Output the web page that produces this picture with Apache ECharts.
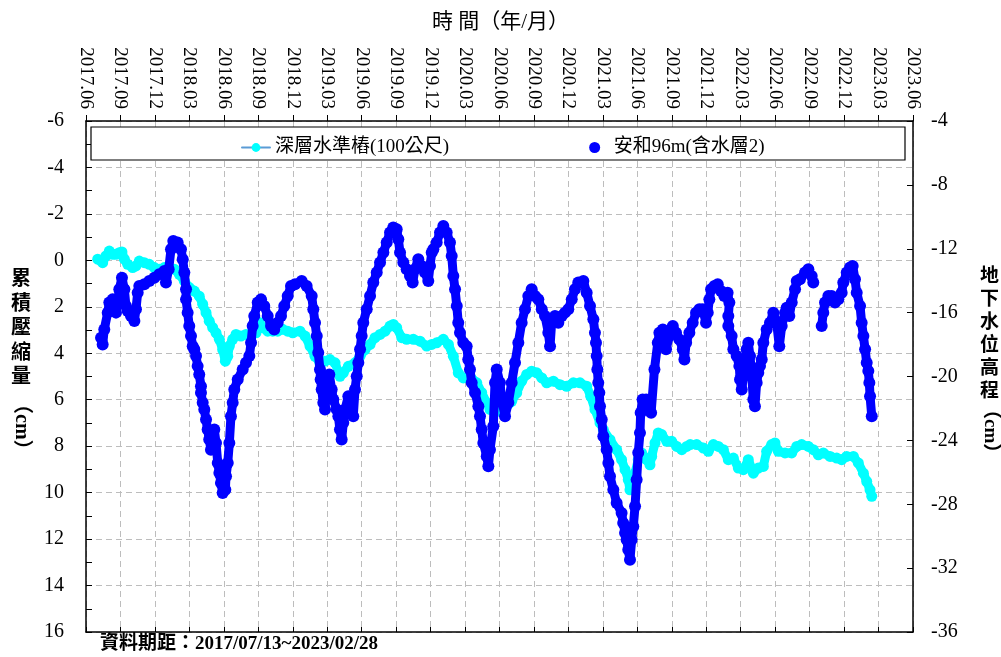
<!DOCTYPE html>
<html lang="zh-Hant">
<head>
    <meta charset="UTF-8">
    <title>累積壓縮量與地下水位</title>
    <script src="https://cdn.jsdelivr.net/npm/echarts@6.0.0/dist/echarts.min.js"></script>
    <style>
        html, body { margin: 0; padding: 0; background: #fff; }
        #chart { width: 1001px; height: 657px; }
    </style>
</head>
<body>
<div id="chart"></div>
<script>
    // x 值 = 月序 (2017年1月 = 1, 2017.06 = 6 ...)
    const deepName = '深層水準樁(100公尺)';
    const wellName = '安和96m(含水層2)';

    // 深層水準樁 累積壓縮量 (cm)
    const deepMonth = [7.02, 7.45, 7.74, 8.03, 8.32, 8.61, 8.90, 9.13, 9.34, 9.63, 10.06, 10.35, 10.64, 11.08, 11.51,
        11.95, 12.38, 12.82, 13.25, 13.69, 14.12, 14.56, 14.99, 15.43, 15.86, 16.16, 16.45, 16.73, 17.03, 17.32,
        17.61, 17.90, 18.13, 18.34, 18.48, 18.77, 19.06, 19.49, 19.93, 20.37, 20.80, 21.09, 21.38, 21.82, 22.25,
        22.69, 23.12, 23.56, 24.00, 24.63, 25.07, 25.50, 25.94, 26.37, 26.81, 27.24, 27.68, 28.11, 28.40, 28.84,
        29.42, 29.86, 30.29, 30.73, 31.16, 31.60, 32.04, 32.47, 32.76, 33.05, 33.49, 33.92, 34.50, 35.08, 35.66,
        36.10, 36.53, 37.11, 37.55, 37.98, 38.41, 38.85, 39.43, 40.02, 40.45, 40.89, 41.17, 41.80, 42.48, 43.06,
        43.50, 43.93, 44.37, 44.80, 45.24, 45.68, 46.11, 46.69, 47.27, 47.85, 48.43, 49.01, 49.59, 49.94, 50.31,
        50.75, 51.04, 51.62, 52.20, 52.63, 52.93, 53.21, 53.36, 53.59, 53.80, 54.08, 54.37, 54.81, 55.10, 55.25,
        55.54, 55.82, 56.12, 56.56, 56.99, 57.43, 57.87, 58.30, 58.60, 59.17, 59.75, 60.18, 60.62, 61.05, 61.49,
        61.92, 62.36, 62.79, 63.23, 63.66, 64.10, 64.53, 64.97, 65.26, 65.70, 65.98, 66.27, 66.86, 67.44, 67.88,
        68.31, 68.89, 69.32, 69.76, 70.19, 70.78, 71.36, 71.79, 72.23, 72.81, 73.24, 73.68, 73.97, 74.26, 74.41];
    const deepSettle = [-0.05, 0.10, -0.19, -0.40, -0.26, -0.26, -0.33, -0.36, -0.05, 0.17, 0.31, 0.24, 0.03, 0.10, 0.17,
        0.31, 0.38, 0.31, 0.31, 0.38, 0.60, 0.89, 1.17, 1.32, 1.54, 1.89, 2.25, 2.62, 2.90, 3.12,
        3.40, 3.84, 4.34, 4.13, 3.69, 3.40, 3.19, 3.26, 3.19, 3.26, 3.12, 2.68, 2.90, 3.05, 3.05,
        3.05, 2.97, 3.05, 3.12, 3.05, 3.26, 3.69, 4.13, 4.41, 4.34, 4.27, 4.41, 4.99, 4.84, 4.56,
        4.41, 4.13, 3.84, 3.62, 3.33, 3.19, 3.05, 2.83, 2.76, 2.90, 3.33, 3.40, 3.40, 3.48, 3.69,
        3.62, 3.55, 3.40, 3.62, 4.13, 4.84, 5.06, 4.99, 5.27, 5.70, 6.14, 6.42, 6.50, 6.42, 6.07,
        5.70, 5.20, 4.91, 4.77, 4.84, 5.06, 5.27, 5.20, 5.35, 5.42, 5.27, 5.27, 5.42, 5.85, 6.42,
        7.00, 7.29, 7.72, 8.15, 8.58, 9.01, 9.44, 9.88, 9.44, 9.16, 8.58, 8.29, 8.58, 8.80, 8.44,
        7.86, 7.43, 7.50, 7.79, 7.79, 8.01, 8.15, 8.01, 7.93, 7.93, 8.08, 8.22, 7.93, 8.01, 8.15,
        8.58, 8.51, 8.94, 9.01, 8.58, 9.16, 8.94, 8.87, 8.22, 7.93, 7.86, 8.22, 8.29, 8.29, 8.01,
        7.93, 8.01, 8.15, 8.37, 8.29, 8.44, 8.51, 8.58, 8.44, 8.44, 8.72, 9.16, 9.52, 9.88, 10.16];

    // 安和96m 地下水位高程
    const wellMonth = [7.31, 7.45, 7.59, 7.89, 8.03, 8.32, 8.61, 8.76, 8.90, 9.13, 9.34, 9.48, 9.63, 9.92, 10.21,
        10.35, 10.50, 10.64, 11.08, 11.51, 11.95, 12.38, 12.82, 12.96, 13.20, 13.40, 13.60, 13.98, 14.27, 14.42,
        14.56, 14.71, 14.71, 14.85, 14.99, 15.14, 15.29, 15.43, 15.58, 15.72, 15.86, 16.01, 16.01, 16.16, 16.30,
        16.45, 16.59, 16.73, 16.88, 17.17, 17.32, 17.47, 17.61, 17.75, 17.90, 18.13, 18.19, 18.34, 18.48, 18.62,
        18.77, 18.91, 19.21, 19.64, 19.93, 20.22, 20.37, 20.51, 20.65, 20.95, 21.24, 21.52, 21.82, 22.11, 22.39,
        22.69, 22.98, 23.26, 23.56, 23.85, 24.20, 24.78, 25.21, 25.65, 25.79, 25.94, 26.09, 26.22, 26.37, 26.43,
        26.52, 26.66, 26.81, 26.95, 27.18, 27.39, 27.53, 27.83, 27.97, 28.11, 28.26, 28.40, 28.55, 28.84, 29.13,
        29.27, 29.42, 29.57, 29.71, 29.86, 30.00, 30.14, 30.44, 30.73, 31.01, 31.31, 31.60, 31.89, 32.18, 32.47,
        32.75, 33.05, 33.19, 33.34, 33.63, 33.92, 34.21, 34.44, 34.64, 34.93, 35.23, 35.51, 35.80, 35.95, 36.10,
        36.24, 36.53, 36.82, 37.11, 37.40, 37.69, 37.84, 37.98, 38.13, 38.28, 38.41, 38.56, 38.85, 39.14, 39.28,
        39.43, 39.58, 39.87, 40.16, 40.30, 40.45, 40.59, 40.89, 41.03, 41.17, 41.46, 41.61, 41.76, 42.04, 42.19,
        42.48, 42.77, 43.06, 43.35, 43.64, 43.93, 44.22, 44.51, 44.80, 45.09, 45.38, 45.68, 45.96, 46.25, 46.40,
        46.54, 46.83, 47.12, 47.42, 47.70, 47.99, 48.29, 48.57, 48.86, 49.30, 49.59, 49.88, 50.17, 50.31, 50.40,
        50.46, 50.52, 50.60, 50.69, 50.75, 50.90, 51.04, 51.33, 51.48, 51.62, 51.91, 52.20, 52.63, 52.77, 52.93,
        53.07, 53.21, 53.36, 53.51, 53.65, 53.80, 53.94, 54.08, 54.23, 54.29, 54.46, 54.77, 55.20, 55.49, 55.78,
        55.92, 56.22, 56.50, 56.79, 57.09, 57.37, 57.66, 57.96, 58.10, 58.25, 58.53, 58.82, 59.11, 59.40, 59.69,
        59.98, 60.13, 60.27, 60.42, 60.71, 61.00, 61.28, 61.57, 61.86, 62.01, 61.92, 61.92, 62.21, 62.36, 62.65,
        62.88, 62.94, 63.09, 63.37, 63.52, 63.66, 63.81, 63.96, 64.10, 64.24, 64.39, 64.53, 64.68, 64.83, 64.97,
        65.26, 65.55, 65.84, 66.13, 66.36, 66.57, 66.86, 67.00, 67.23, 67.44, 67.73, 67.88, 68.16, 68.60, 68.89,
        69.18, 69.32, 70.05, 70.19, 70.34, 70.63, 70.92, 71.21, 71.50, 71.79, 71.93, 72.23, 72.52, 72.75, 72.95,
        73.10, 73.39, 73.53, 73.68, 73.83, 73.97, 74.11, 74.20, 74.26, 74.41];
    const wellLevel = [-17.57, -17.99, -17.05, -16.00, -15.37, -15.17, -16.00, -15.37, -14.54, -13.81, -14.54, -15.59, -15.90, -16.21, -16.53,
        -15.79, -14.75, -14.33, -14.23, -14.02, -13.81, -13.60, -13.39, -14.12, -13.28, -12.03, -11.51, -11.61, -12.03, -12.66,
        -13.49, -14.54, -15.17, -16.00, -16.84, -17.47, -18.10, -18.30, -18.72, -19.35, -19.87, -20.61, -21.02, -21.65, -22.07,
        -22.70, -23.32, -23.95, -24.58, -23.32, -24.16, -25.41, -26.04, -26.67, -27.29, -27.09, -26.25, -25.41, -24.16, -22.49,
        -21.65, -20.81, -20.19, -19.56, -19.14, -18.72, -17.89, -16.84, -16.21, -15.37, -15.17, -15.59, -16.21, -16.84, -17.05,
        -16.63, -16.21, -15.59, -14.96, -14.33, -14.23, -14.02, -14.33, -14.96, -15.79, -16.63, -17.47, -18.51, -19.56, -20.19,
        -20.81, -21.65, -22.07, -20.81, -19.87, -20.81, -21.44, -22.07, -22.49, -23.32, -23.95, -22.90, -22.07, -21.23, -21.65,
        -22.49, -20.81, -19.98, -19.14, -18.30, -17.47, -16.63, -15.79, -14.96, -14.12, -13.49, -12.86, -12.24, -11.61, -10.98,
        -10.67, -10.78, -11.40, -12.24, -12.86, -13.28, -13.70, -14.12, -13.28, -12.66, -13.08, -13.49, -14.02, -13.08, -12.24,
        -12.03, -11.61, -10.98, -10.57, -10.98, -11.61, -12.45, -13.70, -14.54, -15.59, -16.63, -17.26, -17.89, -18.10, -18.93,
        -19.56, -20.39, -21.02, -21.86, -22.49, -23.32, -24.16, -25.00, -25.62, -24.58, -23.11, -20.39, -19.56, -20.39, -21.44,
        -22.49, -21.65, -20.39, -19.14, -17.89, -16.63, -15.79, -14.96, -14.54, -14.96, -15.17, -15.79, -16.21, -17.26, -18.10,
        -16.63, -16.21, -16.63, -16.21, -16.00, -15.79, -15.17, -14.54, -14.12, -14.02, -14.75, -15.59, -16.42, -17.26, -17.89,
        -18.72, -19.56, -20.39, -21.02, -21.86, -22.70, -23.74, -24.58, -25.41, -26.25, -27.09, -27.92, -28.55, -29.17, -29.80,
        -30.22, -30.85, -31.47, -30.22, -29.39, -28.13, -26.46, -24.78, -23.53, -22.27, -21.44, -21.44, -22.27, -19.56, -17.89,
        -17.26, -17.05, -18.30, -17.47, -16.84, -17.26, -17.68, -18.30, -18.93, -17.89, -17.26, -16.63, -16.00, -15.79, -15.79,
        -16.63, -16.00, -15.17, -14.54, -14.33, -14.23, -14.64, -14.96, -14.75, -15.37, -16.21, -16.84, -17.47, -18.30, -18.72,
        -19.35, -20.19, -20.81, -19.35, -18.30, -17.89, -18.72, -19.98, -21.44, -21.86, -20.39, -19.77, -19.35, -18.93, -17.89,
        -17.05, -16.63, -16.00, -16.63, -18.10, -16.84, -16.00, -15.69, -16.21, -15.37, -14.54, -14.02, -13.91, -13.49, -13.28,
        -13.70, -14.12, -16.84, -16.00, -15.37, -14.96, -14.96, -15.37, -15.17, -14.75, -14.12, -13.49, -13.18, -13.08, -13.91,
        -14.75, -15.59, -16.63, -17.47, -18.30, -19.14, -19.66, -20.39, -21.23, -22.49];

    const FONT = '"Liberation Serif", "Noto Sans CJK TC", serif';

    // 月序 -> "2017.06"
    function monthLabel(v) {
        let y = 2017 + Math.floor((v - 1) / 12);
        let m = ((v - 1) % 12) + 1;
        return y + '.' + (m < 10 ? '0' + m : m);
    }

    let deepData = deepMonth.map((m, i) => [m, deepSettle[i]]);
    // 缺測時段斷開
    let wellData = [];
    wellMonth.forEach((m, i) => {
        if (i > 0 && m - wellMonth[i - 1] > 0.6) wellData.push([wellMonth[i - 1], '-']);
        wellData.push([m, wellLevel[i]]);
    });

    let myChart = echarts.init(document.getElementById('chart'));
    let blackLine = {show: true, onZero: false, lineStyle: {color: '#000', width: 1.5}};
    let dashed = {show: true, lineStyle: {color: '#bdbdbd', width: 1, type: [6, 4]}};

    let option = {
        animation: false,
        backgroundColor: '#fff',
        title: {
            text: '時 間（年/月）',
            left: 'center',
            top: 7,
            textStyle: {fontFamily: FONT, fontSize: 21, fontWeight: 'normal', color: '#000'}
        },
        grid: {left: 86, right: 88, top: 121, bottom: 25},
        legend: {
            left: 236,
            top: 133,
            z: 6,
            itemGap: 140,
            itemWidth: 28,
            itemHeight: 11,
            textStyle: {fontFamily: FONT, fontSize: 19, color: '#000'},
            data: [
                {name: deepName, itemStyle: {color: '#00ffff'}, lineStyle: {color: '#5b9bd5', width: 2}},
                {name: wellName, icon: 'circle', itemStyle: {color: '#0000ff'}}
            ]
        },
        graphic: [
            // 圖例外框
            {type: 'rect', z: 5, shape: {x: 91, y: 127, width: 814, height: 33},
                style: {fill: '#fff', stroke: '#000', lineWidth: 1.2}},
            {type: 'text', left: 11, top: 268, z: 5,
                style: {text: '累\n積\n壓\n縮\n量', font: 'bold 20px ' + FONT, lineHeight: 24.5, fill: '#000'}},
            {type: 'text', x: 31, y: 394, rotation: -Math.PI / 2, z: 5,
                style: {text: '（cm）', font: 'bold 20px ' + FONT, fill: '#000'}},
            {type: 'text', left: 980, top: 266, z: 5,
                style: {text: '地\n下\n水\n位\n高\n程', font: 'bold 19px ' + FONT, lineHeight: 23, fill: '#000'}},
            {type: 'text', x: 999, y: 400, rotation: -Math.PI / 2, z: 5,
                style: {text: '（cm）', font: 'bold 19px ' + FONT, fill: '#000'}},
            {type: 'text', left: 100, top: 635, z: 5,
                style: {text: '資料期距：2017/07/13~2023/02/28', font: 'bold 19px ' + FONT, fill: '#000'}}
        ],
        xAxis: [
            {
                type: 'value', position: 'top', min: 6, max: 78, interval: 3,
                axisLine: blackLine,
                axisTick: {show: true, inside: false, length: 6, lineStyle: {color: '#000'}},
                axisLabel: {rotate: 90, margin: 12, fontFamily: FONT, fontSize: 19, color: '#000', formatter: monthLabel},
                splitLine: dashed
            },
            {
                type: 'value', position: 'bottom', min: 6, max: 78, interval: 3,
                axisLine: blackLine,
                axisTick: {show: true, inside: true, length: 5, lineStyle: {color: '#000'}},
                axisLabel: {show: false},
                splitLine: {show: false}
            }
        ],
        yAxis: [
            {
                type: 'value', inverse: true, min: -6, max: 16, interval: 2, position: 'left',
                axisLine: blackLine,
                axisTick: {show: true, inside: true, length: 6, lineStyle: {color: '#000'}},
                minorTick: {show: true, splitNumber: 2, length: 6, lineStyle: {color: '#000'}},
                axisLabel: {margin: 22, fontFamily: FONT, fontSize: 20, color: '#000'},
                splitLine: dashed
            },
            {
                type: 'value', min: -36, max: -4, interval: 4, position: 'right',
                axisLine: blackLine,
                axisTick: {show: true, inside: true, length: 6, lineStyle: {color: '#000'}},
                axisLabel: {margin: 18, fontFamily: FONT, fontSize: 20, color: '#000'},
                splitLine: {show: false}
            }
        ],
        series: [
            {
                name: deepName,
                type: 'line',
                xAxisIndex: 0,
                yAxisIndex: 0,
                z: 2,
                symbol: 'circle',
                symbolSize: 11,
                showAllSymbol: true,
                itemStyle: {color: '#00ffff'},
                lineStyle: {color: '#00ffff', width: 9, cap: 'round', join: 'round'},
                data: deepData
            },
            {
                name: wellName,
                type: 'line',
                xAxisIndex: 0,
                yAxisIndex: 1,
                z: 3,
                symbol: 'circle',
                symbolSize: 12,
                showAllSymbol: true,
                connectNulls: false,
                itemStyle: {color: '#0000ff'},
                lineStyle: {color: '#0000ff', width: 9, cap: 'round', join: 'round'},
                data: wellData
            }
        ]
    };

    myChart.setOption(option);
</script>
</body>
</html>
